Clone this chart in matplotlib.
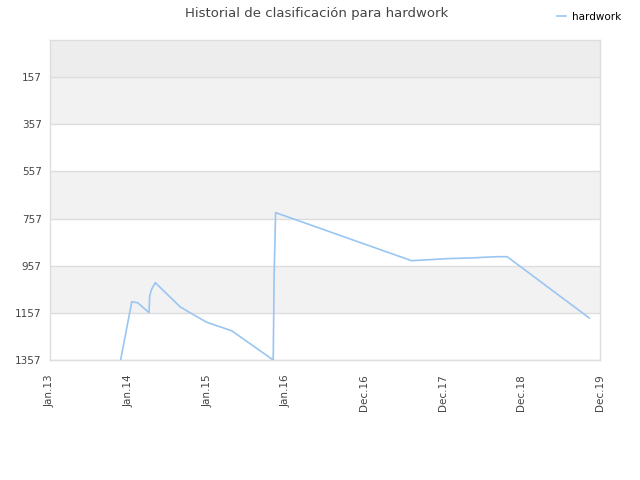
import numpy as np
import pandas as pd
from matplotlib import pyplot as plt

# rank history (lower is better, axis inverted)
dates = ["2013-11-25", "2014-01-16", "2014-02-12", "2014-04-06", "2014-04-09",
         "2014-04-18", "2014-05-05", "2014-08-28", "2014-10-05", "2014-12-30",
         "2015-04-25", "2015-11-04", "2015-11-08", "2015-11-15", "2017-08-08",
         "2017-10-01", "2018-01-25", "2018-05-14", "2018-09-04", "2018-10-26",
         "2019-11-11"]
ranks = [1357, 1110, 1114, 1156, 1086,
         1057, 1029, 1131, 1152, 1197,
         1233, 1357, 1006, 732, 936,
         933, 927, 924, 919, 919,
         1179]

y_ticks = [157, 357, 557, 757, 957, 1157, 1357]
x_labels = ["Jan.13", "Jan.14", "Jan.15", "Jan.16", "Dec.16", "Dec.17", "Dec.18", "Dec.19"]

x = pd.to_datetime(dates)
start = pd.Timestamp("2013-01-01")
x_ticks = [start + pd.Timedelta(days=365 * k) for k in range(len(x_labels))]

fig = plt.figure(figsize=(6.4, 4.8), dpi=100)
ax = fig.add_axes([50 / 640, 120 / 480, 550 / 640, 320 / 480])

# alternating bands
bands = [0] + y_ticks
band_colors = ["#ededed", "#f2f2f2", "#ffffff", "#f2f2f2", "#ffffff", "#f2f2f2", "#ffffff"]
for lo, hi, c in zip(bands[:-1], bands[1:], band_colors):
    ax.axhspan(lo, hi, color=c, zorder=0, lw=0)
for t in y_ticks:
    ax.axhline(t, color="#dddddd", lw=1, zorder=1)

ax.plot(x, ranks, color="#99c6f3", lw=1.2, zorder=3, label="hardwork")

ax.set_ylim(1357, 0)
ax.set_xlim(x_ticks[0], x_ticks[-1])
ax.set_yticks(y_ticks)
ax.set_yticklabels([str(t) for t in y_ticks])
ax.set_xticks(x_ticks)
ax.set_xticklabels(x_labels, rotation=90)
ax.tick_params(length=0, labelsize=7.5, colors="#444444", pad=6)
ax.tick_params(axis="x", pad=10)

for s in ax.spines.values():
    s.set_color("#dddddd")
    s.set_linewidth(1)

fig.text(0.495, 0.972, "Historial de clasificación para hardwork", ha="center", va="center",
         fontsize=9.5, color="#444444")
fig.legend(loc="upper right", bbox_to_anchor=(0.985, 0.995), frameon=False,
           fontsize=7.5, handlelength=0.8, handletextpad=0.6)

fig.savefig("out.png", dpi=100)
